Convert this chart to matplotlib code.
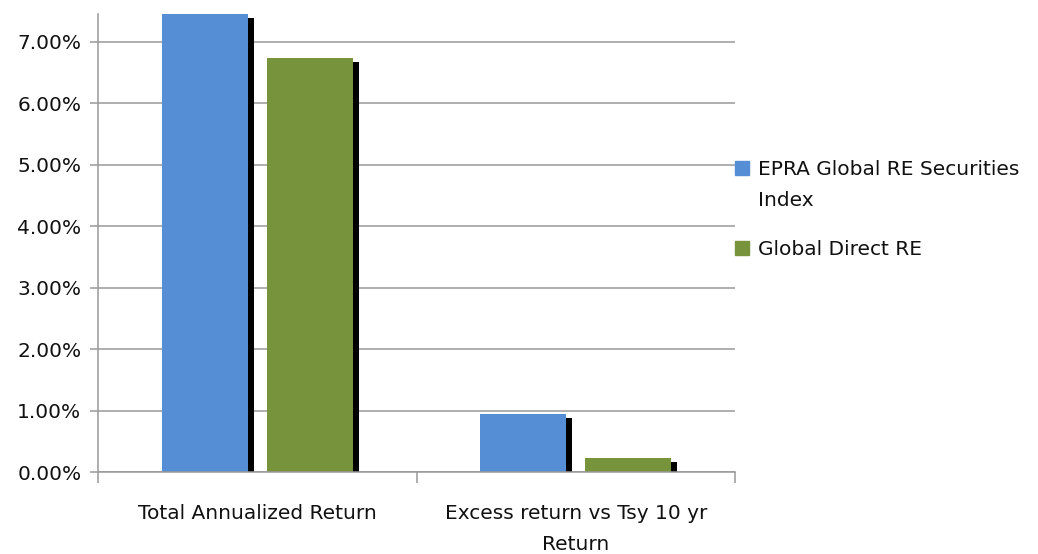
import matplotlib
matplotlib.use("Agg")
import matplotlib.pyplot as plt
import matplotlib.patheffects as pe
from matplotlib.patches import Rectangle
from matplotlib.ticker import FuncFormatter
import numpy as np

# Datos del grafico (en %)
categorias = ["Total Annualized Return", "Excess return vs Tsy 10 yr\nReturn"]
series = ["EPRA Global RE Securities\nIndex", "Global Direct RE"]
epra = [7.45, 0.94]
directo = [6.74, 0.23]
colores = ["#558ed5", "#77933c"]

plt.rcParams["font.family"] = ["DejaVu Sans"]
tam = 14.5

fig = plt.figure(figsize=(10.38, 5.54), dpi=100)
ax = fig.add_axes([98 / 1038, 82 / 554, 637 / 1038, 458 / 554])

x = np.arange(len(categorias))
ancho = 0.27
sombra = [pe.SimplePatchShadow(offset=(4.3, -2.9), shadow_rgbFace="black", alpha=1.0), pe.Normal()]

for i, (vals, col) in enumerate(zip([epra, directo], colores)):
    pos = x + (-0.165 if i == 0 else 0.165)
    barras = ax.bar(pos, vals, width=ancho, color=col, zorder=3)
    for b in barras:
        b.set_path_effects(sombra)

ax.set_xlim(-0.5, 1.5)
ax.set_ylim(0, 7.45)
ax.set_yticks(np.arange(0, 8, 1))
ax.yaxis.set_major_formatter(FuncFormatter(lambda v, p: f"{v:.2f}%"))
ax.grid(axis="y", color="#999999", linewidth=1.1, zorder=0)

# etiquetas de categoria centradas, marcas en los limites
ax.set_xticks(x)
ax.set_xticklabels(categorias, linespacing=1.8)
ax.set_xticks([-0.5, 0.5, 1.5], minor=True)
ax.tick_params(axis="x", which="major", length=0, pad=23, labelsize=tam, labelcolor="#111111")
ax.tick_params(axis="x", which="minor", length=8, width=1.1, color="#999999")
ax.tick_params(axis="y", length=6, width=1.1, color="#999999", labelsize=tam, labelcolor="#111111", pad=6)

for lado in ["top", "right"]:
    ax.spines[lado].set_visible(False)
for lado in ["left", "bottom"]:
    ax.spines[lado].set_color("#999999")
    ax.spines[lado].set_linewidth(1.1)
    ax.spines[lado].set_zorder(4)

# leyenda a la derecha
leyenda_y = [168, 248]
for nombre, col, yy in zip(series, colores, leyenda_y):
    fig.add_artist(Rectangle((735 / 1038, 1 - (yy + 7) / 554), 14 / 1038, 14 / 554,
                             transform=fig.transFigure, color=col))
    fig.text(758 / 1038, 1 - (yy - 8) / 554, nombre, fontsize=tam, color="#111111",
             va="top", ha="left", linespacing=1.8)

fig.savefig("out.png", dpi=100)
